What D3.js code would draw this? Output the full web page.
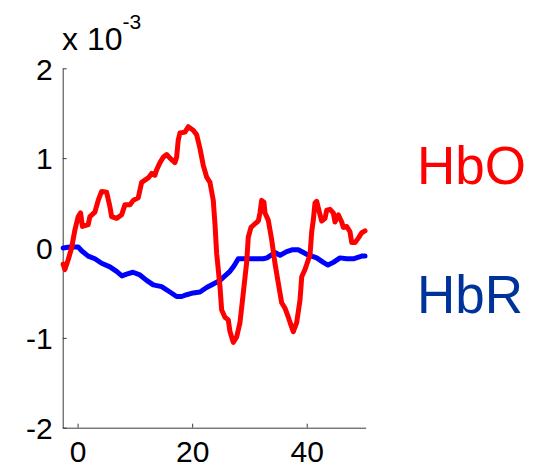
<!DOCTYPE html>
<html>
<head>
<meta charset="utf-8">
<script src="https://cdn.jsdelivr.net/npm/d3@7"></script>
<style>
  html, body { margin: 0; padding: 0; background: #fff; }
  svg { display: block; font-family: "Liberation Sans", Arial, Helvetica, sans-serif; }
</style>
</head>
<body>
<svg id="chart" width="542" height="468"></svg>
<script>
// Time (s) and concentration change (x 10^-3)
const hboTime = [-2.52,-2.22,-1.64,-1.05,-0.47,0.10,0.52,0.84,1.85,2.15,3.02,3.60,4.19,5.07,5.64,5.94,6.81,7.69,8.26,9.14,9.71,10.59,11.18,12.33,12.93,13.50,13.80,14.38,14.95,15.55,16.12,16.99,17.29,17.57,17.87,18.74,19.32,20.19,20.79,21.36,21.94,22.53,23.11,23.69,23.99,24.28,24.86,25.15,25.73,26.31,26.60,27.18,27.77,28.35,28.65,29.22,29.52,29.80,30.27,30.97,31.55,31.84,32.14,32.54,32.72,33.29,33.89,34.46,35.04,35.63,36.21,36.79,37.38,37.66,38.25,38.83,39.13,39.70,40.28,40.58,40.87,41.15,41.45,41.75,42.32,42.62,43.20,43.49,44.07,44.65,44.94,45.52,46.11,46.39,46.99,47.56,47.86,48.44,49.01,49.62,50.18];
const hboValues = [-0.18,-0.24,-0.13,0.00,0.20,0.35,0.39,0.24,0.26,0.35,0.40,0.53,0.63,0.62,0.46,0.35,0.33,0.37,0.48,0.48,0.53,0.56,0.73,0.78,0.83,0.81,0.87,0.95,1.01,1.04,1.00,0.95,1.01,1.20,1.28,1.29,1.35,1.31,1.26,1.11,0.92,0.79,0.73,0.53,0.26,-0.06,-0.43,-0.69,-0.77,-0.80,-0.93,-1.05,-0.99,-0.83,-0.66,-0.33,-0.16,0.12,0.23,0.27,0.30,0.39,0.53,0.51,0.39,0.31,0.09,-0.17,-0.39,-0.61,-0.67,-0.77,-0.88,-0.93,-0.83,-0.58,-0.32,-0.24,-0.13,-0.08,0.18,0.31,0.50,0.52,0.37,0.30,0.33,0.42,0.43,0.39,0.29,0.37,0.29,0.23,0.24,0.18,0.06,0.06,0.11,0.17,0.19];

const hbrTime = [-2.52,-1.34,0.10,0.70,1.85,3.02,4.19,5.64,6.81,7.74,8.56,9.66,10.88,12.05,13.21,14.67,16.12,17.29,18.17,19.04,20.19,21.36,22.53,23.69,24.86,25.73,26.60,27.30,28.05,29.52,30.97,32.42,33.07,34.46,35.34,36.51,37.43,38.53,40.00,41.75,42.90,43.72,44.65,45.82,46.99,48.14,49.61,50.18];
const hbrValues = [0.00,0.01,0.01,-0.03,-0.09,-0.12,-0.17,-0.21,-0.26,-0.31,-0.29,-0.27,-0.30,-0.36,-0.41,-0.43,-0.49,-0.54,-0.54,-0.52,-0.50,-0.49,-0.44,-0.40,-0.36,-0.31,-0.26,-0.20,-0.12,-0.12,-0.12,-0.12,-0.11,-0.05,-0.08,-0.04,-0.02,-0.02,-0.07,-0.11,-0.16,-0.19,-0.16,-0.11,-0.12,-0.12,-0.09,-0.09];

const xTicks = [0, 20, 40];
const yTicks = [-2, -1, 0, 1, 2];
const seriesNames = ["HbO", "HbR"];
const exponentLabel = "-3";

const svg = d3.select("#chart");
const x = d3.scaleLinear().domain([-2.6, 50.3]).range([62.7, 365.7]);
const y = d3.scaleLinear().domain([-2, 2]).range([427.7, 68.3]);

const axisColor = "#3a3a3a";
const fmt = d => String(d);

const gx = svg.append("g").attr("transform", `translate(0,${y(-2)})`)
  .call(d3.axisBottom(x).tickValues(xTicks).tickSizeInner(-4).tickSizeOuter(0).tickPadding(13).tickFormat(fmt));
const gy = svg.append("g").attr("transform", `translate(${x(-2.6)},0)`)
  .call(d3.axisLeft(y).tickValues(yTicks).tickSizeInner(-4).tickSizeOuter(0).tickPadding(10).tickFormat(fmt));

[gx, gy].forEach(g => {
  g.select(".domain").attr("stroke", axisColor).attr("stroke-width", 1);
  g.selectAll(".tick line").attr("stroke", axisColor).attr("stroke-width", 1);
  g.selectAll(".tick text").attr("fill", "#000").style("font-size", "30px")
    .style("font-family", "'Liberation Sans', Arial, sans-serif");
});
gy.selectAll(".tick text").attr("dy", "0.36em");

// exponent label
const expText = svg.append("text").attr("x", 62).attr("y", 50)
  .style("font-size", "32px").attr("fill", "#000");
expText.append("tspan").text("x 10");
expText.append("tspan").attr("dy", -21).style("font-size", "21px").text(exponentLabel);

const line = d3.line().x(d => x(d[0])).y(d => y(d[1]));
const hbr = hbrTime.map((t, i) => [t, hbrValues[i]]);
const hbo = hboTime.map((t, i) => [t, hboValues[i]]);

svg.append("path").datum(hbr).attr("d", line)
  .attr("fill", "none").attr("stroke", "#0000ff").attr("stroke-width", 5)
  .attr("stroke-linejoin", "round").attr("stroke-linecap", "round");
svg.append("path").datum(hbo).attr("d", line)
  .attr("fill", "none").attr("stroke", "#ff0000").attr("stroke-width", 5)
  .attr("stroke-linejoin", "round").attr("stroke-linecap", "round");

svg.append("text").attr("x", 417).attr("y", 184).style("font-size", "53px")
  .attr("fill", "#ff0000").text(seriesNames[0]);
svg.append("text").attr("x", 417).attr("y", 313).style("font-size", "53px")
  .attr("fill", "#003399").text(seriesNames[1]);
</script>
</body>
</html>
